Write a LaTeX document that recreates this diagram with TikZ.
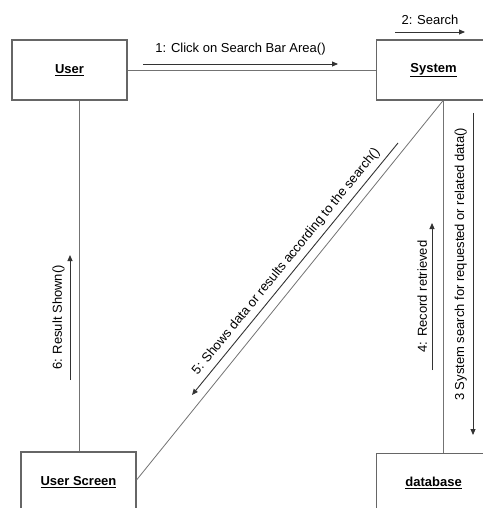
\documentclass[tikz,border=0pt]{standalone}
\usepackage{fontspec}
\setmainfont{Liberation Sans}
\usetikzlibrary{positioning, arrows.meta, calc}

\begin{document}
\begin{tikzpicture}[
    x=1pt, y=-1pt,
    node distance=248pt and 248pt,
    obj/.style={draw=black!60, line width=1.1pt, minimum width=115pt,
                minimum height=60pt, inner sep=0pt,
                font=\fontsize{13}{15}\selectfont\bfseries},
    link/.style={draw=black!55, line width=0.8pt},
    msg/.style={-{Triangle[length=6pt, width=5pt]}, line width=0.9pt,
                draw=black!80},
    msglabel/.style={font=\fontsize{13}{15}\selectfont, inner sep=1pt},
]

\useasboundingbox (0,0) rectangle (482,508);

% === Objects ===
\node[obj] (user) at (69.5,70) {\underline{User}};
\node[obj, right=of user] (system) {\underline{System}};
\node[obj] (screen) at (78.5,482) {\underline{User Screen}};
\node[obj, below=352pt of system] (database) {\underline{database}};

% === Links ===
\coordinate (userfoot) at ($(user.south)+(9.5,0)$);
\coordinate (sysfoot)  at ($(system.south)+(9.5,0)$);
\draw[link] (user) -- (system);
\draw[link] (userfoot) -- (userfoot |- screen.north);
\draw[link] (sysfoot) -- (sysfoot |- database.north);
\draw[link] (sysfoot) -- ($(screen.east)+(0,-2)$);

% === Messages ===
\coordinate (m1s) at (143,64);  \coordinate (m1e) at (338,64);
\coordinate (m2s) at (395,32);  \coordinate (m2e) at (465,32);
\coordinate (m3s) at (473,113); \coordinate (m3e) at (473,435);
\coordinate (m4s) at (432,370); \coordinate (m4e) at (432,223);
\coordinate (m5s) at (398,143); \coordinate (m5e) at (192,395);
\coordinate (m6s) at (70,380);  \coordinate (m6e) at (70,255);

\draw[msg] (m1s) -- (m1e) node[msglabel, midway, above=7pt] {1: Click on Search Bar Area()};
\draw[msg] (m2s) -- (m2e) node[msglabel, midway, above=6pt] {2: Search};
\draw[msg] (m3s) -- (m3e);
\path (m3e) -- (m3s) node[msglabel, pos=.53, sloped, above=5pt]
  {3 System search for requested or related data()};
\draw[msg] (m4s) -- (m4e) node[msglabel, midway, sloped, above=3.5pt] {4: Record retrieved};
\draw[msg] (m5s) -- (m5e);
\path (m5e) -- (m5s) node[msglabel, midway, sloped, above=4pt]
  {5: Shows data or results according to the search()};
\draw[msg] (m6s) -- (m6e) node[msglabel, midway, sloped, above=4pt] {6: Result Shown()};

\end{tikzpicture}
\end{document}
